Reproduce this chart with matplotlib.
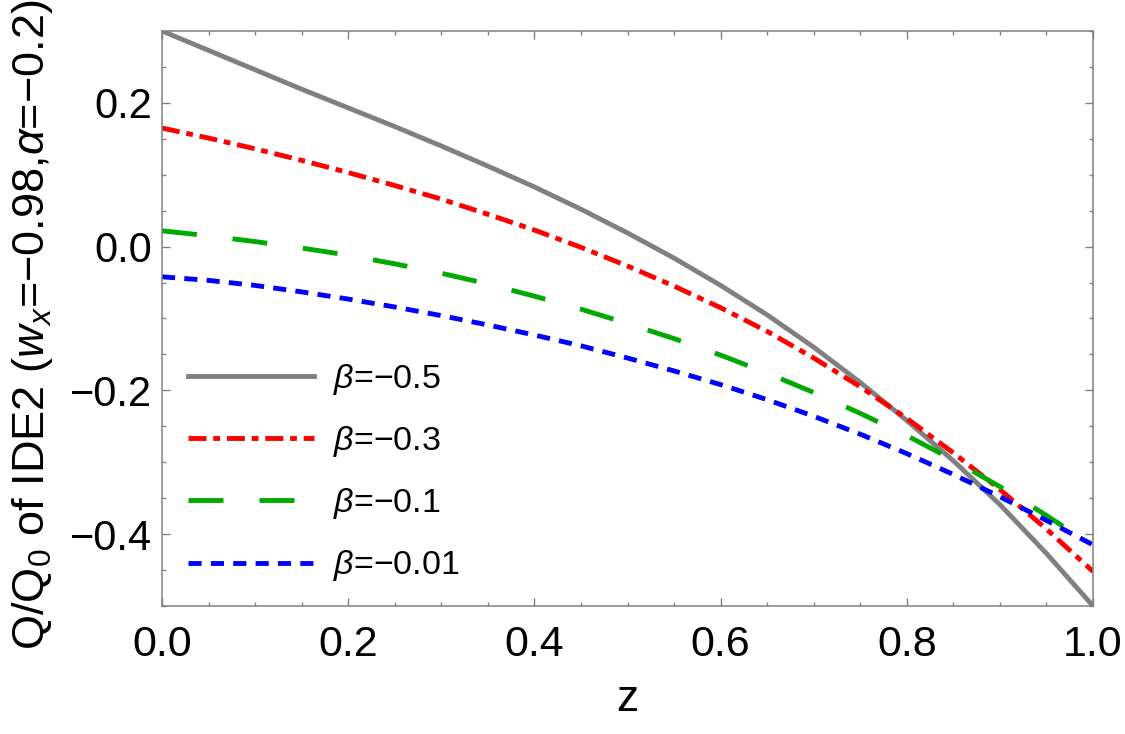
import numpy as np
import matplotlib
matplotlib.use("Agg")
import matplotlib.pyplot as plt
from matplotlib.ticker import MultipleLocator

plt.rcParams['font.family'] = ['Liberation Sans', 'DejaVu Sans']
plt.rcParams['mathtext.fontset'] = 'custom'
plt.rcParams['mathtext.rm'] = 'Liberation Sans'
plt.rcParams['mathtext.it'] = 'Liberation Sans:italic'

# values
z = [0.0, 0.05, 0.1, 0.15, 0.2, 0.25, 0.3, 0.35, 0.4, 0.45, 0.5,
     0.55, 0.6, 0.65, 0.7, 0.75, 0.8, 0.85, 0.9, 0.95, 1.0]
q_b05 = [0.300, 0.273, 0.246, 0.219, 0.193, 0.167, 0.140, 0.112, 0.083, 0.052, 0.019,
         -0.016, -0.054, -0.095, -0.140, -0.189, -0.242, -0.298, -0.359, -0.427, -0.500]
q_b03 = [0.165, 0.151, 0.136, 0.120, 0.103, 0.085, 0.066, 0.045, 0.023, -0.001, -0.027,
         -0.055, -0.085, -0.118, -0.155, -0.195, -0.239, -0.287, -0.338, -0.393, -0.452]
q_b01 = [0.022, 0.015, 0.007, -0.002, -0.012, -0.024, -0.037, -0.052, -0.069, -0.087, -0.107,
         -0.128, -0.151, -0.176, -0.203, -0.232, -0.263, -0.297, -0.334, -0.374, -0.417]
q_b001 = [-0.042, -0.047, -0.054, -0.063, -0.073, -0.084, -0.096, -0.109, -0.123, -0.138, -0.155,
          -0.173, -0.192, -0.213, -0.236, -0.261, -0.288, -0.317, -0.348, -0.381, -0.415]
labels = [r'$\beta$=−0.5', r'$\beta$=−0.3', r'$\beta$=−0.1', r'$\beta$=−0.01']

lw = 3.5
fig = plt.figure(figsize=(11.25, 7.34), dpi=100)
ax = fig.add_axes([0.144, 0.1744, 0.8276, 0.7834])

ax.plot(z, q_b05, color='#808080', lw=lw, label=labels[0])
ax.plot(z, q_b03, color='#ff0000', lw=lw, dashes=(3.7, 1.4, 1.4, 1.4), label=labels[1])
ax.plot(z, q_b01, color='#00aa00', lw=lw, dashes=(7.2, 7.4), label=labels[2])
ax.plot(z, q_b001, color='#0000ff', lw=lw, dashes=(2.7, 1.9), label=labels[3])

ax.set_xlim(0, 1.0)
ax.set_ylim(-0.5, 0.3)
ax.xaxis.set_major_locator(MultipleLocator(0.2))
ax.xaxis.set_minor_locator(MultipleLocator(0.05))
ax.yaxis.set_major_locator(MultipleLocator(0.2))
ax.yaxis.set_minor_locator(MultipleLocator(0.05))
ax.xaxis.set_major_formatter(matplotlib.ticker.FormatStrFormatter('%.1f'))
ax.yaxis.set_major_formatter(matplotlib.ticker.FuncFormatter(
    lambda v, p: ('%.1f' % v).replace('-', '−')))

for s in ax.spines.values():
    s.set_color('#808080')
    s.set_linewidth(1.1)
ax.tick_params(which='both', direction='in', top=True, right=True, color='#808080', width=1)
ax.tick_params(which='major', length=5.5, labelsize=30, pad=7)
ax.tick_params(which='minor', length=3.1)
ax.tick_params(axis='x', which='major', labelsize=31, pad=14)

ax.set_xlabel('z', fontsize=32, labelpad=10)
ax.set_ylabel(r'Q/Q$_0$ of IDE2 ($w_x$=−0.98,$\alpha$=−0.2)', fontsize=32.5)
ax.yaxis.set_label_coords(-0.115, 0.49)

ax.legend(loc='center left', bbox_to_anchor=(0.028, 0.232), frameon=False, fontsize=24.5,
          handlelength=3.7, handletextpad=0.55, labelspacing=0.8, borderpad=0, borderaxespad=0)

fig.savefig('out.png', dpi=100)
